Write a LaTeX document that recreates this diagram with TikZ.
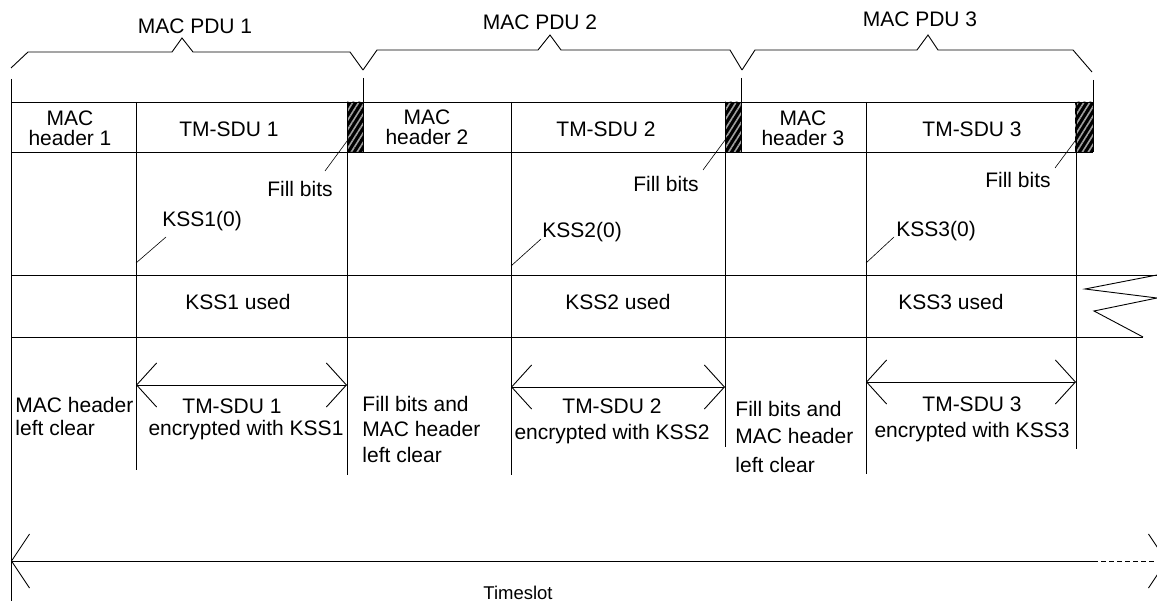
\documentclass[tikz,border=0pt]{standalone}
\usepackage{fontspec}
\setmainfont{Liberation Sans}
\usetikzlibrary{arrows.meta,patterns.meta}
\begin{document}
\begin{tikzpicture}[x=1pt,y=-1pt,line width=0.9pt,
  txt/.style={font=\fontsize{21}{21}\selectfont, inner sep=0pt, anchor=base},
  txtl/.style={txt, anchor=base west},
  barb/.style={{Straight Barb[length=20pt,width=44pt]}-{Straight Barb[length=20pt,width=44pt]}},
  tsbarb/.tip={Straight Barb[length=18pt,width=54pt]},
  fillbox/.style={fill=black},
  hatch/.style={pattern={Lines[angle=58,distance=5pt,line width=1.6pt]}, pattern color=gray!75}]
\useasboundingbox (0,0) rectangle (1157,601);
\clip (0,0) rectangle (1157,601);

% ---------- braces ----------
\draw (11,68) -- (28,52) -- (172,52) -- (182,38) -- (193,52) -- (350,52) -- (363,70);
\draw (363,70) -- (377,50) -- (538,50) -- (550,35) -- (561,50) -- (730,50) -- (742,70);
\draw (742,70) -- (755,50) -- (917,50) -- (928,35) -- (938,50) -- (1073,50) -- (1092,72);
\node[txt] (pdu1) at (195,34) {MAC PDU 1};
\node[txt] (pdu2) at (540,30) {MAC PDU 2};
\node[txt] (pdu3) at (920,27) {MAC PDU 3};

% ---------- fill bit boxes ----------
\foreach \a/\b in {347/363,725/741,1075/1093}{
  \fill[fillbox] (\a,102) rectangle (\b,152);
  \fill[hatch] (\a,102) rectangle (\b,152);
}

% ---------- grid lines ----------
\draw (11,102) -- (1093,102);
\draw (11,152) -- (1093,152);
\draw (11,79) -- (11,601);
\draw (363,78) -- (363,152);
\draw (741,78) -- (741,152);
\draw (1093,80) -- (1093,152);
\draw (136,102) -- (136,470);
\draw (347,102) -- (347,475);
\draw (511,102) -- (511,475);
\draw (725,102) -- (725,447);
\draw (866,102) -- (866,474);
\draw (1076,102) -- (1076,449);
\draw (11,275) -- (1157,275);
\draw (11,337) -- (1143,337);
\draw (1157,275) -- (1085,289) -- (1157,298) -- (1094,311) -- (1143,337);

% ---------- top row text ----------
\node[txt] (mh1a) at (70,126) {MAC};
\node[txt] (mh1b) at (70,146) {header 1};
\node[txt] (mh2a) at (427,125) {MAC};
\node[txt] (mh2b) at (427,145) {header 2};
\node[txt] (mh3a) at (803,126) {MAC};
\node[txt] (mh3b) at (803,146) {header 3};
\node[txt] (sdu1) at (229,137) {TM-SDU 1};
\node[txt] (sdu2) at (606,137) {TM-SDU 2};
\node[txt] (sdu3) at (972,137) {TM-SDU 3};

% ---------- fill bits labels ----------
\node[txt] (fb1) at (300,197) {Fill bits};
\node[txt] (fb2) at (666,192) {Fill bits};
\node[txt] (fb3) at (1018,188) {Fill bits};
\coordinate (fb1s) at (325,171); \coordinate (fb1e) at (350,137);
\coordinate (fb2s) at (703,170); \coordinate (fb2e) at (728,136);
\coordinate (fb3s) at (1055,168); \coordinate (fb3e) at (1078,137);
\draw[line width=0.6pt] (fb1s) -- (fb1e);
\draw[line width=0.6pt] (fb2s) -- (fb2e);
\draw[line width=0.6pt] (fb3s) -- (fb3e);

% ---------- KSS(0) labels ----------
\node[txtl] (k1) at (162,227) {KSS1(0)};
\node[txtl] (k2) at (542,238) {KSS2(0)};
\node[txtl] (k3) at (896,237) {KSS3(0)};
\coordinate (k1s) at (136,263); \coordinate (k1e) at (166,237);
\coordinate (k2s) at (511,266); \coordinate (k2e) at (541,239);
\coordinate (k3s) at (866,263); \coordinate (k3e) at (894,237);
\draw[line width=0.6pt] (k1s) -- (k1e);
\draw[line width=0.6pt] (k2s) -- (k2e);
\draw[line width=0.6pt] (k3s) -- (k3e);

% ---------- KSS used ----------
\node[txt] (u1) at (238,310) {KSS1 used};
\node[txt] (u2) at (618,310) {KSS2 used};
\node[txt] (u3) at (951,310) {KSS3 used};

% ---------- SDU arrows ----------
\coordinate (a1l) at (136,385); \coordinate (a1r) at (347,385);
\coordinate (a2l) at (511,387); \coordinate (a2r) at (725,387);
\coordinate (a3l) at (866,382); \coordinate (a3r) at (1076,382);
\draw[barb] (a1l) -- (a1r);
\draw[barb] (a2l) -- (a2r);
\draw[barb] (a3l) -- (a3r);

% ---------- bottom row text ----------
\node[txtl] (lc1) at (15,413) {MAC header};
\node[txtl] (lc2) at (15,436) {left clear};
\node[txt] (e1a) at (232,414) {TM-SDU 1};
\node[txt] (e1b) at (246,436) {encrypted with KSS1};
\node[txtl] (f1a) at (362,412) {Fill bits and};
\node[txtl] (f1b) at (362,437) {MAC header};
\node[txtl] (f1c) at (362,462) {left clear};
\node[txt] (e2a) at (612,414) {TM-SDU 2};
\node[txt] (e2b) at (612,440) {encrypted with KSS2};
\node[txtl] (f2a) at (735,417) {Fill bits and};
\node[txtl] (f2b) at (735,444) {MAC header};
\node[txtl] (f2c) at (735,472) {left clear};
\node[txt] (e3a) at (972,412) {TM-SDU 3};
\node[txt] (e3b) at (972,438) {encrypted with KSS3};

% ---------- timeslot ----------
\coordinate (tsl) at (11,561);
\coordinate (tsm) at (1093,561);
\coordinate (tsr) at (1167,561);
\draw[{tsbarb}-] (tsl) -- (tsm);
\draw[dash pattern=on 5pt off 3pt,-{tsbarb}] (tsm) -- (tsr);
\node[txt,font=\fontsize{18.5}{18.5}\selectfont] (ts) at (518,599) {Timeslot};
\end{tikzpicture}
\end{document}
